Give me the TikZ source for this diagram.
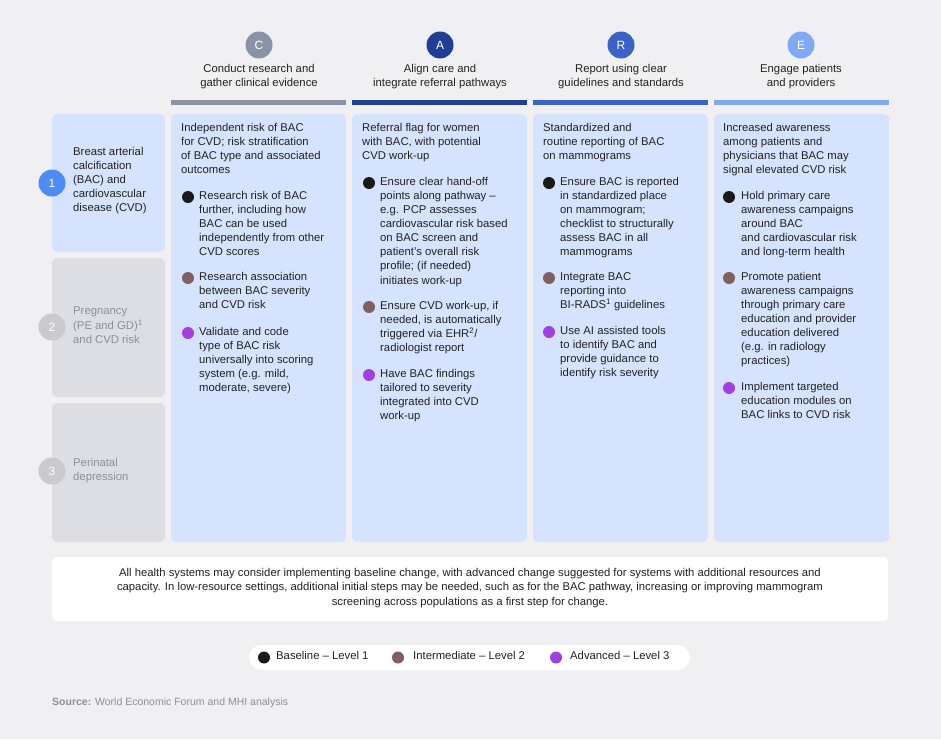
\documentclass[tikz,border=0pt]{standalone}
\usepackage{fontspec}
\setmainfont{Liberation Sans}
\definecolor{bg}{HTML}{F0F0F3}
\definecolor{cardblue}{HTML}{D5E3FE}
\definecolor{cardgrey}{HTML}{DDDEE3}
\definecolor{cC}{HTML}{8A93A6}
\definecolor{cA}{HTML}{1E3F94}
\definecolor{cR}{HTML}{3A63C8}
\definecolor{cE}{HTML}{7FA8F5}
\definecolor{num1}{HTML}{4D8BF5}
\definecolor{numg}{HTML}{C8CAD0}
\definecolor{txt}{HTML}{222222}
\definecolor{greytxt}{HTML}{8A8F99}
\definecolor{dbase}{HTML}{1A1A1A}
\definecolor{dint}{HTML}{7F5F5F}
\definecolor{dadv}{HTML}{A23FE0}
\newcommand{\bodyfont}{\fontsize{11.3}{14.1}\selectfont}
\begin{document}
\begin{tikzpicture}[x=1pt,y=-1pt,
  hcirc/.style={circle,fill=#1,minimum size=27pt,inner sep=0,text=white,font=\fontsize{12}{14}\selectfont},
  ncirc/.style={circle,fill=#1,minimum size=27pt,inner sep=0,text=white,font=\fontsize{12}{14}\selectfont},
  htext/.style={align=center,font=\bodyfont,text=txt,anchor=north,inner sep=0},
  ctext/.style={align=left,font=\bodyfont,text=txt,anchor=north west,inner sep=0},
  dot/.style={circle,fill=#1,minimum size=12pt,inner sep=0}]
\useasboundingbox (0,0) rectangle (941,739);
\fill[bg] (0,0) rectangle (941,739);
% headers
\foreach \n/\c/\x/\l/\t in {hC/cC/259/C/{Conduct research and\\gather clinical evidence},
                         hA/cA/440/A/{Align care and\\integrate referral pathways},
                         hR/cR/621/R/{Report using clear\\guidelines and standards},
                         hE/cE/801/E/{Engage patients\\and providers}}{
  \node[hcirc=\c] (\n) at (\x,45) {\l};
  \node[htext] (\n t) at (\x,64.5) {\t};
}
\foreach \n/\c/\x in {bC/cC/171,bA/cA/352,bR/cR/533,bE/cE/714}{
  \fill[\c] (\x,100) rectangle ++(175,5);
  \fill[cardblue,rounded corners=5pt] (\x,114) rectangle ++(175,428);
}
% left boxes
\fill[cardblue,rounded corners=5pt] (52,114) rectangle (165,252);
\fill[cardgrey,rounded corners=5pt] (52,258) rectangle (165,397);
\fill[cardgrey,rounded corners=5pt] (52,403) rectangle (165,542);
\node[ncirc=num1] (n1) at (52,183) {1};
\node[ncirc=numg] (n2) at (52,327) {2};
\node[ncirc=numg] (n3) at (52,471) {3};
\node[ctext] (r1) at (73,147) {Breast arterial\\calcification\\(BAC) and\\cardiovascular\\disease (CVD)};
\node[ctext,text=greytxt] (r2) at (73,307) {Pregnancy\\(PE and GD)\textsuperscript{1}\\and CVD risk};
\node[ctext,text=greytxt] (r3) at (73,458) {Perinatal\\depression};
% column C
\node[ctext] (ch) at (181,123) {Independent risk of BAC\\for CVD; risk stratification\\of BAC type and associated\\outcomes};
\node[dot=dbase] (cd1) at (188,197) {};
\node[ctext] (ct1) at (199,191) {Research risk of BAC\\further, including how\\BAC can be used\\independently from other\\CVD scores};
\node[dot=dint] (cd2) at (188,278) {};
\node[ctext] (ct2) at (199,272) {Research association\\between BAC severity\\and CVD risk};
\node[dot=dadv] (cd3) at (188,333) {};
\node[ctext] (ct3) at (199,327) {Validate and code\\type of BAC risk\\universally into scoring\\system (e.g. mild,\\moderate, severe)};
% column A
\node[ctext] (ah) at (362,123) {Referral flag for women\\with BAC, with potential\\CVD work-up};
\node[dot=dbase] (ad1) at (369,183) {};
\node[ctext] (at1) at (380,177) {Ensure clear hand-off\\points along pathway –\\e.g. PCP assesses\\cardiovascular risk based\\on BAC screen and\\patient's overall risk\\profile; (if needed)\\initiates work-up};
\node[dot=dint] (ad2) at (369,307) {};
\node[ctext] (at2) at (380,301) {Ensure CVD work-up, if\\needed, is automatically\\triggered via EHR\textsuperscript{2}/\\radiologist report};
\node[dot=dadv] (ad3) at (369,375) {};
\node[ctext] (at3) at (380,369) {Have BAC findings\\tailored to severity\\integrated into CVD\\work-up};
% column R
\node[ctext] (rh) at (543,123) {Standardized and\\routine reporting of BAC\\on mammograms};
\node[dot=dbase] (rd1) at (549,183) {};
\node[ctext] (rt1) at (560,177) {Ensure BAC is reported\\in standardized place\\on mammogram;\\checklist to structurally\\assess BAC in all\\mammograms};
\node[dot=dint] (rd2) at (549,278) {};
\node[ctext] (rt2) at (560,272) {Integrate BAC\\reporting into\\BI-RADS\textsuperscript{1} guidelines};
\node[dot=dadv] (rd3) at (549,332) {};
\node[ctext] (rt3) at (560,326) {Use AI assisted tools\\to identify BAC and\\provide guidance to\\identify risk severity};
% column E
\node[ctext] (eh) at (723,123) {Increased awareness\\among patients and\\physicians that BAC may\\signal elevated CVD risk};
\node[dot=dbase] (ed1) at (729,197) {};
\node[ctext] (et1) at (741,191) {Hold primary care\\awareness campaigns\\around BAC\\and cardiovascular risk\\and long-term health};
\node[dot=dint] (ed2) at (729,278) {};
\node[ctext] (et2) at (741,272) {Promote patient\\awareness campaigns\\through primary care\\education and provider\\education delivered\\(e.g. in radiology\\practices)};
\node[dot=dadv] (ed3) at (729,388) {};
\node[ctext] (et3) at (741,382) {Implement targeted\\education modules on\\BAC links to CVD risk};
% bottom note
\fill[white,rounded corners=5pt] (52,557) rectangle (888,621);
\node[htext] (note) at (470,568.5) {All health systems may consider implementing baseline change, with advanced change suggested for systems with additional resources and\\capacity. In low-resource settings, additional initial steps may be needed, such as for the BAC pathway, increasing or improving mammogram\\screening across populations as a first step for change.};
% legend
\fill[white,rounded corners=12.5pt] (249,645) rectangle (690,670);
\node[dot=dbase] (l1) at (264,657.5) {};
\node[ctext] (l1t) at (276,651) {Baseline – Level 1};
\node[dot=dint] (l2) at (398,657.5) {};
\node[ctext] (l2t) at (413,651) {Intermediate – Level 2};
\node[dot=dadv] (l3) at (556,657.5) {};
\node[ctext] (l3t) at (570,651) {Advanced – Level 3};
\node[ctext,text=greytxt,font=\fontsize{10.5}{13}\selectfont] (src) at (52,698) {\textbf{Source:} World Economic Forum and MHI analysis};
\end{tikzpicture}
\end{document}
